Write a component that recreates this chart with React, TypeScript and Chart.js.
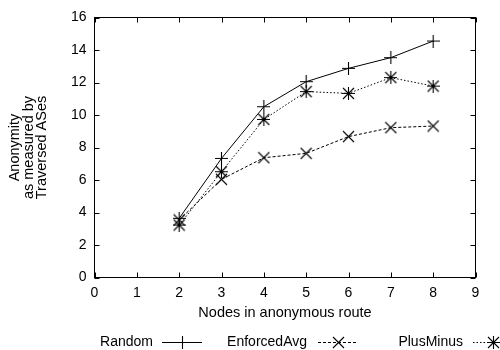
import React, { useEffect, useRef } from "react";
import { Chart, registerables } from "chart.js";

Chart.register(...registerables);

// ---- data ----
const xValues = [2, 3, 4, 5, 6, 7, 8];
const randomValues = [3.64, 7.33, 10.51, 12.05, 12.87, 13.53, 14.55];
const enforcedAvgValues = [3.54, 6.04, 7.37, 7.64, 8.67, 9.22, 9.32];
const plusMinusValues = [3.23, 6.51, 9.73, 11.44, 11.33, 12.3, 11.78];
const seriesNames = ["Random", "EnforcedAvg", "PlusMinus"];
const xTitle = "Nodes in anonymous route";
const yTitle = ["Anonymity", "as measured by", "Traversed ASes"];

const FONT_FAMILY = "'Liberation Sans', Arial, Helvetica, sans-serif";
const FONT_SIZE = 14;
const TITLE_SIZE = 14.5;

function makeMarker(kind: string, size = 13): HTMLCanvasElement {
  const c = document.createElement("canvas");
  c.width = size;
  c.height = size;
  const g = c.getContext("2d")!;
  g.strokeStyle = "#000";
  g.lineWidth = 1.1;
  const m = size / 2;
  g.beginPath();
  if (kind === "plus" || kind === "star") {
    g.moveTo(0, m);
    g.lineTo(size, m);
    g.moveTo(m, 0);
    g.lineTo(m, size);
  }
  if (kind === "x" || kind === "star") {
    g.moveTo(1, 1);
    g.lineTo(size - 1, size - 1);
    g.moveTo(size - 1, 1);
    g.lineTo(1, size - 1);
  }
  g.stroke();
  return c;
}

export default function App() {
  const ref = useRef<HTMLCanvasElement | null>(null);

  useEffect(() => {
    if (!ref.current) return;
    const markers = [makeMarker("plus"), makeMarker("x"), makeMarker("star")];
    const dashes = [[], [3, 2], [1.5, 2]];
    const valueSets = [randomValues, enforcedAvgValues, plusMinusValues];

    const framePlugin = {
      id: "frame",
      afterDatasetsDraw(chart: any) {
        const { ctx, chartArea: a, scales } = chart;
        ctx.save();
        ctx.strokeStyle = "#000";
        ctx.lineWidth = 1;
        ctx.setLineDash([]);
        ctx.strokeRect(a.left, a.top, a.right - a.left, a.bottom - a.top);
        ctx.beginPath();
        const tl = 5;
        scales.x.ticks.forEach((t: any) => {
          const px = Math.round(scales.x.getPixelForValue(t.value)) + 0.5;
          ctx.moveTo(px, a.bottom);
          ctx.lineTo(px, a.bottom - tl);
          ctx.moveTo(px, a.top);
          ctx.lineTo(px, a.top + tl);
        });
        scales.y.ticks.forEach((t: any) => {
          const py = Math.round(scales.y.getPixelForValue(t.value)) + 0.5;
          ctx.moveTo(a.left, py);
          ctx.lineTo(a.left + tl, py);
          ctx.moveTo(a.right, py);
          ctx.lineTo(a.right - tl, py);
        });
        ctx.stroke();
        ctx.restore();
      },
    };

    const legendPlugin = {
      id: "gnuLegend",
      afterDraw(chart: any) {
        const { ctx } = chart;
        const y = 342;
        const layout = [
          { textEnd: 153, start: 162 },
          { textEnd: 307, start: 318 },
          { textEnd: 463, start: 473 },
        ];
        const len = 40;
        ctx.save();
        ctx.font = `${FONT_SIZE}px ${FONT_FAMILY}`;
        ctx.fillStyle = "#000";
        ctx.textAlign = "right";
        ctx.textBaseline = "middle";
        seriesNames.forEach((name, i) => {
          const L = layout[i];
          ctx.fillText(name, L.textEnd, y);
          ctx.strokeStyle = "#000";
          ctx.lineWidth = 1;
          ctx.setLineDash(dashes[i]);
          ctx.beginPath();
          ctx.moveTo(L.start, y + 0.5);
          ctx.lineTo(L.start + len, y + 0.5);
          ctx.stroke();
          ctx.setLineDash([]);
          const mk = markers[i];
          ctx.drawImage(mk, Math.round(L.start + len / 2 - mk.width / 2), Math.round(y + 0.5 - mk.height / 2));
        });
        ctx.restore();
      },
    };

    const font = { family: FONT_FAMILY, size: FONT_SIZE };

    const chart = new Chart(ref.current, {
      type: "line",
      data: {
        datasets: seriesNames.map((name, i) => ({
          label: name,
          data: xValues.map((x, j) => ({ x, y: valueSets[i][j] })),
          borderColor: "#000",
          backgroundColor: "#000",
          borderWidth: 1,
          borderDash: dashes[i],
          pointStyle: markers[i],
          pointRadius: 6,
          pointHoverRadius: 6,
          fill: false,
          tension: 0,
        })),
      },
      options: {
        animation: false,
        responsive: false,
        devicePixelRatio: 1,
        events: [],
        layout: { padding: { left: 0.5, top: 17.5, right: 24.5, bottom: 0 } },
        plugins: {
          legend: { display: false },
          tooltip: { enabled: false },
        },
        scales: {
          x: {
            type: "linear",
            min: 0,
            max: 9,
            ticks: { stepSize: 1, color: "#000", font, padding: 7 },
            grid: { display: false, drawTicks: false },
            border: { display: false },
            title: {
              display: true,
              text: xTitle,
              color: "#000",
              font: { family: FONT_FAMILY, size: TITLE_SIZE },
              padding: { top: 0, bottom: 28.3 },
            },
            afterFit: (s: any) => {
              s.height = 72.5;
            },
          },
          y: {
            type: "linear",
            min: 0,
            max: 16,
            ticks: { stepSize: 2, color: "#000", font, padding: 8 },
            grid: { display: false, drawTicks: false },
            border: { display: false },
            title: {
              display: true,
              text: yTitle,
              color: "#000",
              font: { family: FONT_FAMILY, size: TITLE_SIZE, lineHeight: 0.93 },
              padding: { top: 8.25, bottom: 0 },
            },
            afterFit: (s: any) => {
              s.width = 94;
            },
          },
        },
      } as any,
      plugins: [framePlugin, legendPlugin],
    });
    return () => chart.destroy();
  }, []);

  return (
    <div style={{ position: "fixed", left: 0, top: 0, width: 500, height: 350, background: "#fff" }}>
      <canvas ref={ref} width={500} height={350} style={{ display: "block" }} />
    </div>
  );
}
